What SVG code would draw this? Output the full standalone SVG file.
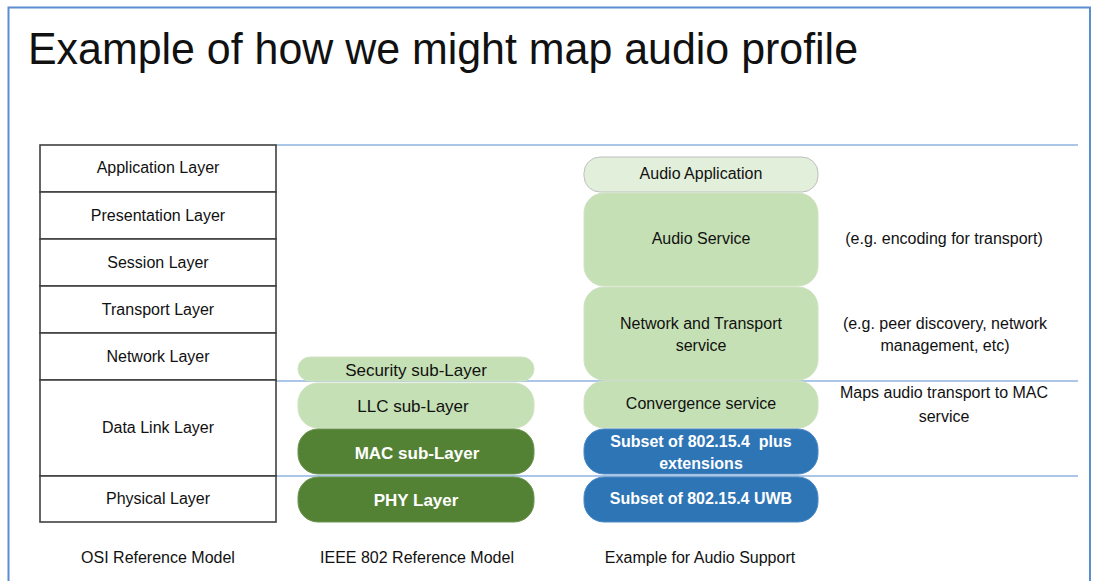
<svg xmlns="http://www.w3.org/2000/svg" width="1099" height="581" viewBox="0 0 1099 581">
  <style>
    text { font-family: "Liberation Sans", Arial, sans-serif; fill: #111; }
    .lbl { font-size: 16px; text-anchor: middle; }
    .sub { font-size: 17px; text-anchor: middle; }
    .wb { font-size: 17px; font-weight: bold; fill: #fff; text-anchor: middle; }
    .wb2 { font-size: 16px; font-weight: bold; fill: #fff; text-anchor: middle; white-space: pre; }
    .osi { fill: #fff; stroke: #404040; stroke-width: 1.6; }
    .lg { fill: #c5e0b4; stroke: #d0e2c4; stroke-width: 1; }
    .xlg { fill: #e2efda; stroke: #bfbfbf; stroke-width: 1; }
    .dg { fill: #548235; stroke: #6a9450; stroke-width: 1; }
    .bl { fill: #2e75b6; stroke: #4d89c2; stroke-width: 1; }
    .div { stroke: #8fb3de; stroke-width: 1.5; fill: none; }
  </style>
  <rect x="0" y="0" width="1099" height="581" fill="#fff"/>
  <path d="M8.5 581 V7.5 H1090 V581" fill="none" stroke="#5b8ed0" stroke-width="2"/>

  <text x="28" y="64" font-size="44" textLength="830" lengthAdjust="spacingAndGlyphs">Example of how we might map audio profile</text>

  <g id="dividers">
    <line class="div" x1="276" y1="145" x2="1078" y2="145"/>
    <line class="div" x1="276" y1="381" x2="1078" y2="381"/>
    <line class="div" x1="276" y1="476" x2="1078" y2="476"/>
  </g>

  <!-- OSI model -->
  <g id="osi-application"><rect class="osi" x="40" y="145" width="236" height="47"/><text class="lbl" x="158" y="173">Application Layer</text></g>
  <g id="osi-presentation"><rect class="osi" x="40" y="192" width="236" height="47"/><text class="lbl" x="158" y="221">Presentation Layer</text></g>
  <g id="osi-session"><rect class="osi" x="40" y="239" width="236" height="47"/><text class="lbl" x="158" y="268">Session Layer</text></g>
  <g id="osi-transport"><rect class="osi" x="40" y="286" width="236" height="47"/><text class="lbl" x="158" y="315">Transport Layer</text></g>
  <g id="osi-network"><rect class="osi" x="40" y="333" width="236" height="47"/><text class="lbl" x="158" y="362">Network Layer</text></g>
  <g id="osi-datalink"><rect class="osi" x="40" y="380" width="236" height="96"/><text class="lbl" x="158" y="433">Data Link Layer</text></g>
  <g id="osi-physical"><rect class="osi" x="40" y="476" width="236" height="46"/><text class="lbl" x="158" y="504">Physical Layer</text></g>

  <!-- IEEE 802 model -->
  <g id="ieee-security"><rect class="lg" x="298" y="357" width="236" height="24" rx="12"/><text class="sub" x="416" y="376">Security sub-Layer</text></g>
  <g id="ieee-llc"><rect class="lg" x="298" y="383" width="236" height="45" rx="20"/><text class="sub" x="413" y="412">LLC sub-Layer</text></g>
  <g id="ieee-mac"><rect class="dg" x="298" y="429" width="236" height="45" rx="20"/><text class="wb" x="417" y="459">MAC sub-Layer</text></g>
  <g id="ieee-phy"><rect class="dg" x="298" y="477" width="236" height="45" rx="20"/><text class="wb" x="416" y="506">PHY Layer</text></g>

  <!-- Audio example -->
  <g id="audio-application"><rect class="xlg" x="584" y="157" width="234" height="35" rx="16"/><text class="lbl" x="701" y="179">Audio Application</text></g>
  <g id="audio-service"><rect class="lg" x="584" y="193" width="234" height="93" rx="20"/><text class="lbl" x="701" y="244">Audio Service</text></g>
  <g id="net-transport"><rect class="lg" x="584" y="287" width="234" height="93" rx="20"/><text class="lbl" x="701" y="329">Network and Transport</text><text class="lbl" x="701" y="351">service</text></g>
  <g id="convergence"><rect class="lg" x="584" y="381" width="234" height="47" rx="20"/><text class="lbl" x="701" y="409">Convergence service</text></g>
  <g id="mac-subset"><rect class="bl" x="584" y="429" width="234" height="45" rx="20"/><text class="wb2" x="701" y="447">Subset of 802.15.4  plus</text><text class="wb2" x="701" y="469">extensions</text></g>
  <g id="phy-subset"><rect class="bl" x="584" y="477" width="234" height="45" rx="20"/><text class="wb2" x="701" y="504">Subset of 802.15.4 UWB</text></g>

  <!-- annotations -->
  <g id="notes">
    <text class="lbl" x="944" y="244">(e.g. encoding for transport)</text>
    <text class="lbl" x="945" y="329">(e.g. peer discovery, network</text>
    <text class="lbl" x="945" y="351">management, etc)</text>
    <text class="lbl" x="944" y="398">Maps audio transport to MAC</text>
    <text class="lbl" x="944" y="422">service</text>
  </g>

  <g id="captions">
    <text class="lbl" x="158" y="563">OSI Reference Model</text>
    <text class="lbl" x="417" y="563">IEEE 802 Reference Model</text>
    <text class="lbl" x="700" y="563">Example for Audio Support</text>
  </g>
</svg>
